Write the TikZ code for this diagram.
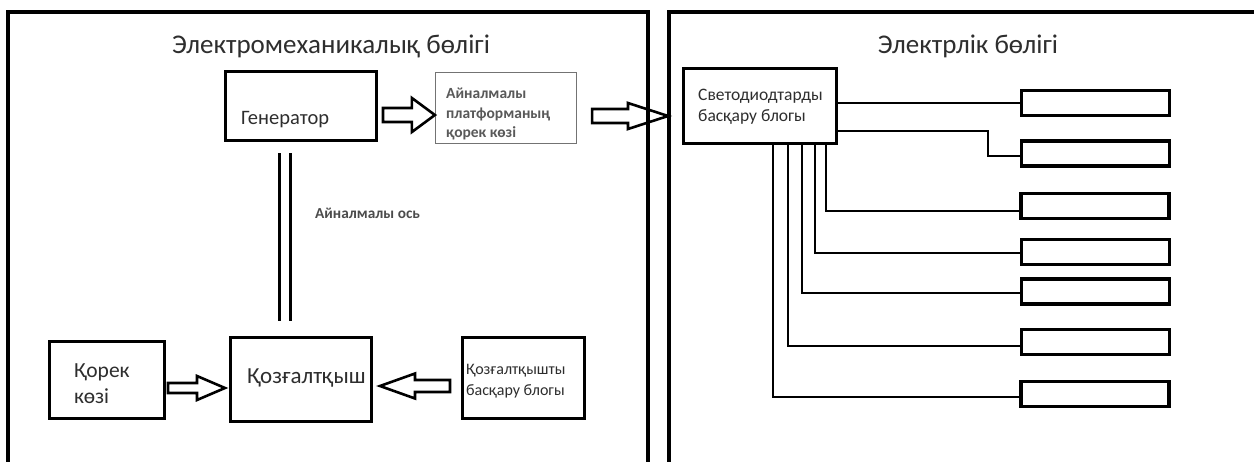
\documentclass[tikz,border=0pt]{standalone}
\usepackage{fontspec}
\setmainfont{Carlito}
\usetikzlibrary{calc}
\definecolor{txt}{HTML}{2E2E2E}
\tikzset{
  x=1pt, y=-1pt,
  box/.style={draw=black, line width=3pt, inner sep=0pt},
  thinbox/.style={draw=black!55, line width=1.2pt, inner sep=0pt},
  ledbox/.style={draw=black, line width=3.2pt, inner sep=0pt, minimum width=148pt, minimum height=25pt},
  panel/.style={draw=black, line width=3.2pt},
  conn/.style={draw=black, line width=2.6pt},
  harrow/.style={draw=black, line width=2.6pt, fill=white, line join=miter},
  lbl/.style={inner sep=0pt, text=txt, anchor=base west},
}
\newcommand\hollowarrow[5]{% start, tip, shaft half, head half, head length
  \coordinate (ha-h) at ($(#2)!#5!(#1)$);
  \draw[harrow] ($(#1)!#3!90:(#2)$) -- ($(ha-h)!#3!-90:(#1)$)
    -- ($(ha-h)!#4!-90:(#1)$) -- (#2) -- ($(ha-h)!#4!90:(#1)$)
    -- ($(ha-h)!#3!90:(#1)$) -- ($(#1)!#3!-90:(#2)$) -- cycle;}
\begin{document}
\begin{tikzpicture}
\useasboundingbox (0,0) rectangle (1254,461);
\clip (0,0) rectangle (1254,461);
\fill[white] (0,0) rectangle (1254,461);

% titles
\node[lbl, anchor=base, font=\fontsize{27}{31}\selectfont] (t1) at (331,53) {Электромеханикалық бөлігі};
\node[lbl, anchor=base, font=\fontsize{27}{31}\selectfont] (t2) at (968,53) {Электрлік бөлігі};

% left part boxes
\node[box, minimum width=151pt, minimum height=69pt] (gen) at (301,106) {};
\node[lbl, font=\fontsize{20.5}{24}\selectfont] (gen-t) at (241,124) {Генератор};

\node[thinbox, minimum width=141pt, minimum height=71pt] (plat) at (506,108) {};
\node[lbl, font=\bfseries\fontsize{15.5}{19}\selectfont, text=black!65] (plat-t1) at (446,98.5) {Айналмалы};
\node[lbl, font=\bfseries\fontsize{15.5}{19}\selectfont, text=black!65] (plat-t2) at (446,118.5) {платформаның};
\node[lbl, font=\bfseries\fontsize{15.5}{19}\selectfont, text=black!65] (plat-t3) at (446,137.5) {қорек көзі};

\node[box, minimum width=115pt, minimum height=77pt] (korek) at (107,380) {};
\node[lbl, font=\fontsize{21.5}{25}\selectfont] (korek-t1) at (74,377) {Қорек};
\node[lbl, font=\fontsize{21.5}{25}\selectfont] (korek-t2) at (74,403) {көзі};

\node[box, minimum width=141pt, minimum height=84pt] (mot) at (301,379.5) {};
\node[lbl, font=\fontsize{23}{27}\selectfont] (mot-t) at (247,383) {Қозғалтқыш};

\node[box, minimum width=122pt, minimum height=81pt] (ctrl) at (523.5,378) {};
\node[lbl, font=\fontsize{16}{20}\selectfont] (ctrl-t1) at (466,374) {Қозғалтқышты};
\node[lbl, font=\fontsize{16}{20}\selectfont] (ctrl-t2) at (466,395) {басқару блогы};

% rotating axis
\draw[line width=2.6pt, double distance=8pt] ($(gen.south)+(-16,11)$) coordinate (ax1) -- ($(mot.north)+(-16,-15)$) coordinate (ax2);
\node[lbl, font=\bfseries\fontsize{15.3}{19}\selectfont, text=black!70] (ax-t) at (315,218) {Айналмалы ось};

% hollow arrows
\coordinate (a1s) at ($(gen.east)+(5,9)$);
\coordinate (a1e) at ($(plat.west|-a1s)+(0,0)$);
\hollowarrow{a1s}{a1e}{7pt}{17pt}{23pt}
\coordinate (a2s) at ($(plat.east)+(15,8)$);
\coordinate (a2e) at (668,116);
\hollowarrow{a2s}{a2e}{7pt}{13pt}{40pt}
\coordinate (a3s) at ($(korek.east)+(2,8)$);
\coordinate (a3e) at ($(mot.west|-a3s)+(-4,0)$);
\hollowarrow{a3s}{a3e}{5pt}{12pt}{28pt}
\coordinate (a4s) at ($(ctrl.west)+(-11,8)$);
\coordinate (a4e) at ($(mot.east|-a4s)+(7,0)$);
\hollowarrow{a4s}{a4e}{6pt}{12.5pt}{35pt}

% right part
\node[box, minimum width=153pt, minimum height=75pt] (led) at (760,106) {};
\node[lbl, font=\fontsize{17.5}{21}\selectfont] (led-t1) at (698,100) {Светодиодтарды};
\node[lbl, font=\fontsize{17.5}{21}\selectfont] (led-t2) at (698,121.5) {басқару блогы};

\node[ledbox] (b1) at (1095.5,103) {};
\node[ledbox] (b2) at (1095.5,153.5) {};
\node[ledbox] (b3) at (1095,206) {};
\node[ledbox] (b4) at (1095.5,252) {};
\node[ledbox] (b5) at (1095.5,291.5) {};
\node[ledbox] (b6) at (1095.5,342) {};
\node[ledbox] (b7) at (1095,394) {};

\draw[conn] (b1.west-|led.east) -- (b1.west);
\draw[conn] ($(led.south east)+(0,-14)$) -| ($(b2.west)+(-32,2.5)$) -- ($(b2.west)+(0,2.5)$);
\draw[conn] ($(led.south east)+(-12,0)$) |- ($(b3.west)+(0,5)$);
\draw[conn] ($(led.south east)+(-23,0)$) |- ($(b4.west)+(0,1)$);
\draw[conn] ($(led.south east)+(-36,0)$) |- ($(b5.west)+(0,1.5)$);
\draw[conn] ($(led.south east)+(-50,0)$) |- ($(b6.west)+(0,4)$);
\draw[conn] ($(led.south east)+(-65,0)$) |- ($(b7.west)+(0,3)$);

% panels
\draw[panel] (8,500) -- (8,12) -- (648,12) -- (648,500);
\draw[panel] (669,500) -- (669,12) -- (1300,12);
\end{tikzpicture}
\end{document}
